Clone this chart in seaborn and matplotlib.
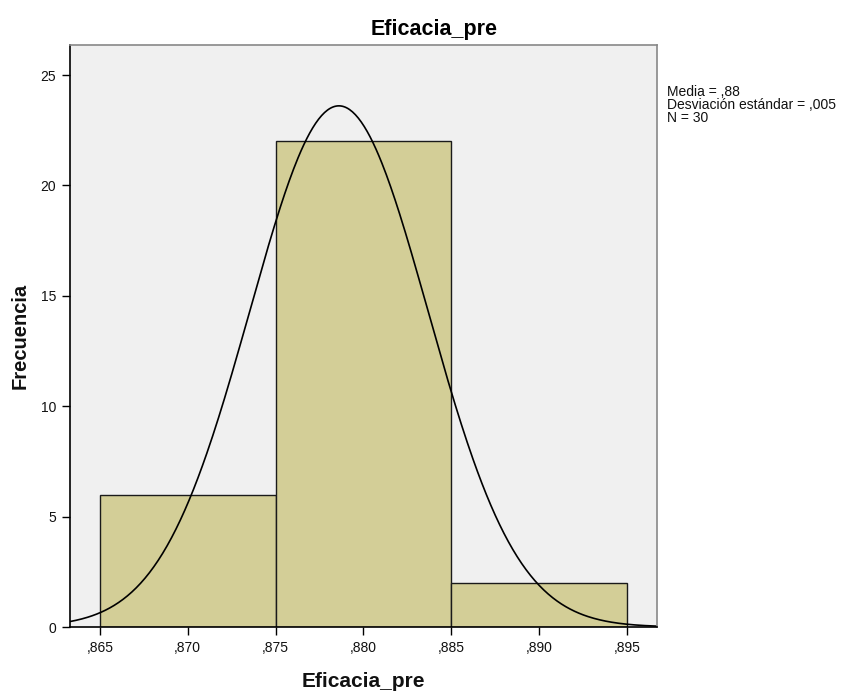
import numpy as np
import pandas as pd
import matplotlib
matplotlib.use("Agg")
import matplotlib.pyplot as plt
import seaborn as sns

# Histogram bins and frequencies of Eficacia_pre
bin_edges = [0.865, 0.875, 0.885, 0.895]
counts = [6, 22, 2]

# Summary statistics used for the normal curve
mean_val = 0.8786
sd_val = 0.00507
n_obs = 30

x_ticks = [0.865, 0.870, 0.875, 0.880, 0.885, 0.890, 0.895]
x_tick_labels = [",865", ",870", ",875", ",880", ",885", ",890", ",895"]
y_ticks = [0, 5, 10, 15, 20, 25]

sns.set_theme(style="white")
plt.rcParams["font.family"] = ["Liberation Sans", "DejaVu Sans"]

fig = plt.figure(figsize=(8.58, 6.93), dpi=100)
ax = fig.add_axes([0.0816, 0.0952, 0.6841, 0.8398])
ax.set_facecolor("#F0F0F0")

centers = [(a + b) / 2 for a, b in zip(bin_edges[:-1], bin_edges[1:])]
hist_df = pd.DataFrame({"valor": centers, "freq": counts})
sns.histplot(data=hist_df, x="valor", weights="freq", bins=bin_edges,
             color="#D3CE97", edgecolor="#1a1a1a", linewidth=1.0, alpha=1.0, ax=ax)

width = bin_edges[1] - bin_edges[0]
xs = np.linspace(0.8633, 0.8967, 400)
ys = n_obs * width / (sd_val * np.sqrt(2 * np.pi)) * np.exp(-0.5 * ((xs - mean_val) / sd_val) ** 2)
sns.lineplot(x=xs, y=ys, color="black", linewidth=1.2, ax=ax)

ax.set_xlim(0.8633, 0.8967)
ax.set_ylim(0, 26.36)
ax.set_xticks(x_ticks)
ax.set_xticklabels(x_tick_labels)
ax.set_yticks(y_ticks)
ax.tick_params(axis="both", which="both", direction="out", length=6, width=1,
               color="black", labelsize=10, labelcolor="#111111", bottom=True, left=True, pad=4)

for side in ["left", "bottom"]:
    ax.spines[side].set_color("black")
    ax.spines[side].set_linewidth(1.2)
for side in ["top", "right"]:
    ax.spines[side].set_color("#888888")
    ax.spines[side].set_linewidth(1.2)

fig.text(0.506, 0.957, "Eficacia_pre", fontsize=15.5, fontweight="bold",
         ha="center", va="center", color="black")
ax.set_xlabel("Eficacia_pre", fontsize=15, fontweight="bold", labelpad=12, color="#111111")
ax.set_ylabel("Frecuencia", fontsize=14.5, fontweight="bold", labelpad=8, color="#111111")

fig.text(0.777, 0.878, "Media = ,88\nDesviación estándar = ,005\nN = 30",
         fontsize=10, va="top", ha="left", linespacing=0.95, color="#111111")

fig.savefig("out.png", dpi=100, facecolor="white")
